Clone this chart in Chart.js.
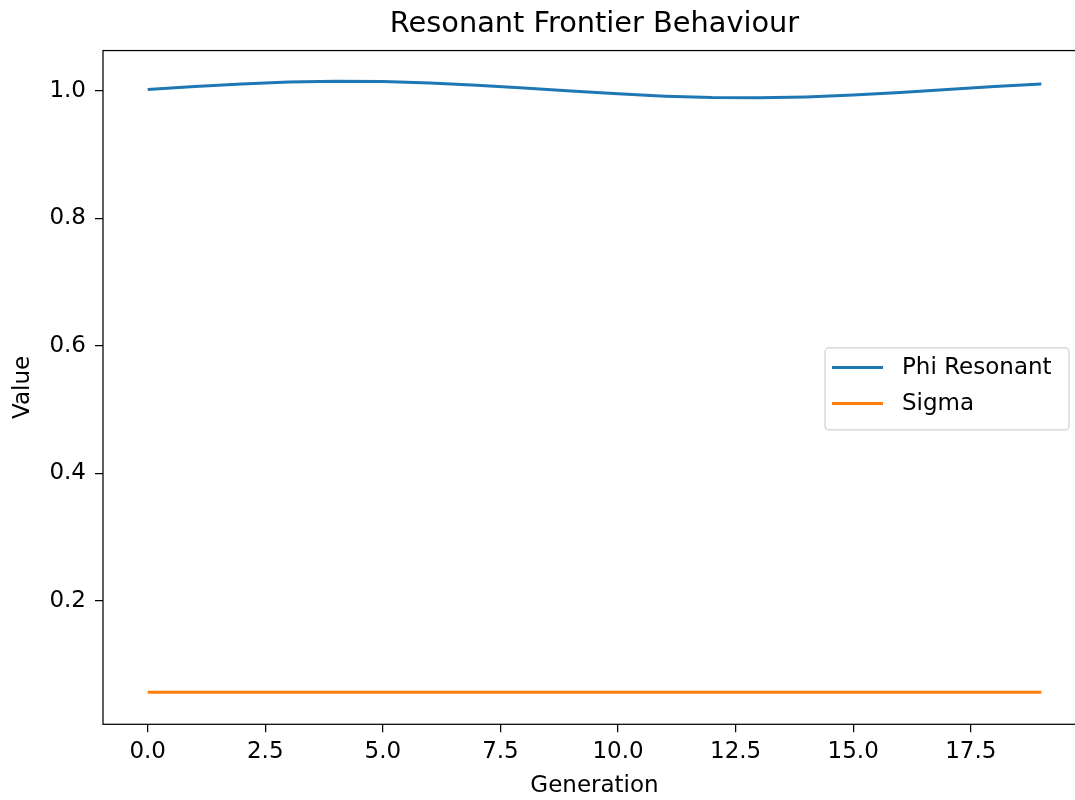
<!DOCTYPE html>
<html><head><meta charset="utf-8">
<script src="https://cdn.jsdelivr.net/npm/chart.js@4"></script>
<style>
html,body{margin:0;padding:0;background:#fff;overflow:hidden;width:1075px;height:800px}
#wrap{position:relative;width:1100px;height:800px}
canvas{display:block}
</style></head>
<body><div id="wrap"><canvas id="c" width="1100" height="800"></canvas></div>
<script>
const generations = [0,1,2,3,4,5,6,7,8,9,10,11,12,13,14,15,16,17,18,19];
const phiResonant = [1.0020,1.0067,1.0108,1.0136,1.0149,1.0145,1.0124,1.0088,1.0044,0.9996,
                     0.9952,0.9916,0.9895,0.9891,0.9904,0.9932,0.9973,1.0020,1.0067,1.0108];
const sigma = [0.0563,0.0563,0.0563,0.0563,0.0563,0.0563,0.0563,0.0563,0.0563,0.0563,
               0.0563,0.0563,0.0563,0.0563,0.0563,0.0563,0.0563,0.0563,0.0563,0.0563];
const xTickValues = [0,2.5,5,7.5,10,12.5,15,17.5];
const yTickValues = [0.2,0.4,0.6,0.8,1.0];
const seriesLabels = ['Phi Resonant','Sigma'];
const seriesColors = ['#1f77b4','#ff7f0e'];
const titleText = 'Resonant Frontier Behaviour';
const xAxisLabel = 'Generation';
const yAxisLabel = 'Value';

const FONT = "'DejaVu Sans', sans-serif";

const framePlugin = {
  id: 'frame',
  afterDatasetsDraw(chart) {
    const {ctx, chartArea: a} = chart;
    ctx.save();
    ctx.strokeStyle = '#000';
    ctx.lineWidth = 1.25;
    ctx.strokeRect(a.left, a.top, a.right - a.left, a.bottom - a.top);
    ctx.restore();
  }
};

const legendPlugin = {
  id: 'mplLegend',
  afterDraw(chart) {
    const {ctx, chartArea: a} = chart;
    const w = 244, h = 82;
    const x = a.right - 17 - w;
    const y = (a.top + a.bottom) / 2 + 1.5 - h / 2;
    ctx.save();
    ctx.beginPath();
    if (ctx.roundRect) ctx.roundRect(x, y, w, h, 4); else ctx.rect(x, y, w, h);
    ctx.fillStyle = 'rgba(255,255,255,0.8)';
    ctx.fill();
    ctx.strokeStyle = '#d0d0d0';
    ctx.lineWidth = 1.2;
    ctx.stroke();
    ctx.font = '23px ' + FONT;
    ctx.textBaseline = 'middle';
    ctx.textAlign = 'left';
    chart.data.datasets.forEach((ds, i) => {
      const ry = y + 19.5 + i * 36;
      ctx.beginPath();
      ctx.moveTo(x + 7, ry);
      ctx.lineTo(x + 58, ry);
      ctx.strokeStyle = ds.borderColor;
      ctx.lineWidth = 3;
      ctx.stroke();
      ctx.fillStyle = '#000';
      ctx.fillText(ds.label, x + 77, ry + 1);
    });
    ctx.restore();
  }
};

const tickGrid = {
  display: true, drawOnChartArea: false, drawTicks: true,
  tickLength: 8, tickWidth: 1.25, tickColor: '#000', color: '#000', lineWidth: 1.25
};

new Chart(document.getElementById('c'), {
  type: 'line',
  data: {
    datasets: [
      { label: seriesLabels[0], data: generations.map((g, i) => ({x: g, y: phiResonant[i]})),
        borderColor: seriesColors[0], backgroundColor: seriesColors[0], borderWidth: 3,
        pointRadius: 0, tension: 0, fill: false },
      { label: seriesLabels[1], data: generations.map((g, i) => ({x: g, y: sigma[i]})),
        borderColor: seriesColors[1], backgroundColor: seriesColors[1], borderWidth: 3,
        pointRadius: 0, tension: 0, fill: false }
    ]
  },
  options: {
    responsive: false,
    animation: false,
    devicePixelRatio: 1,
    layout: { padding: { left: 0, right: 14, top: 0, bottom: 0 } },
    plugins: {
      legend: { display: false },
      tooltip: { enabled: false },
      title: {
        display: true, text: titleText, fullSize: false, color: '#000',
        font: { family: FONT, size: 28.8, weight: 'normal' },
        padding: { top: 7.5, bottom: 8.5 }
      }
    },
    scales: {
      x: {
        type: 'linear', min: -0.95, max: 19.95,
        afterBuildTicks: s => { s.ticks = xTickValues.map(v => ({value: v})); },
        afterFit: s => { s.height = 75.7; },
        grid: tickGrid,
        border: { display: false },
        ticks: { autoSkip: false, maxRotation: 0, padding: 6, color: '#000',
                 font: { family: FONT, size: 23 }, callback: v => Number(v).toFixed(1) },
        title: { display: true, text: xAxisLabel, color: '#000',
                 font: { family: FONT, size: 23 }, padding: { top: 0, bottom: 0 } }
      },
      y: {
        type: 'linear', min: 0.0061, max: 1.0631,
        afterBuildTicks: s => { s.ticks = yTickValues.map(v => ({value: v})); },
        afterFit: s => { s.width = 103; },
        grid: tickGrid,
        border: { display: false },
        ticks: { autoSkip: false, padding: 9, color: '#000',
                 font: { family: FONT, size: 23 }, callback: v => Number(v).toFixed(1) },
        title: { display: true, text: yAxisLabel, color: '#000',
                 font: { family: FONT, size: 23 }, padding: { top: 9, bottom: 0 } }
      }
    }
  },
  plugins: [framePlugin, legendPlugin]
});
</script>
</body></html>
